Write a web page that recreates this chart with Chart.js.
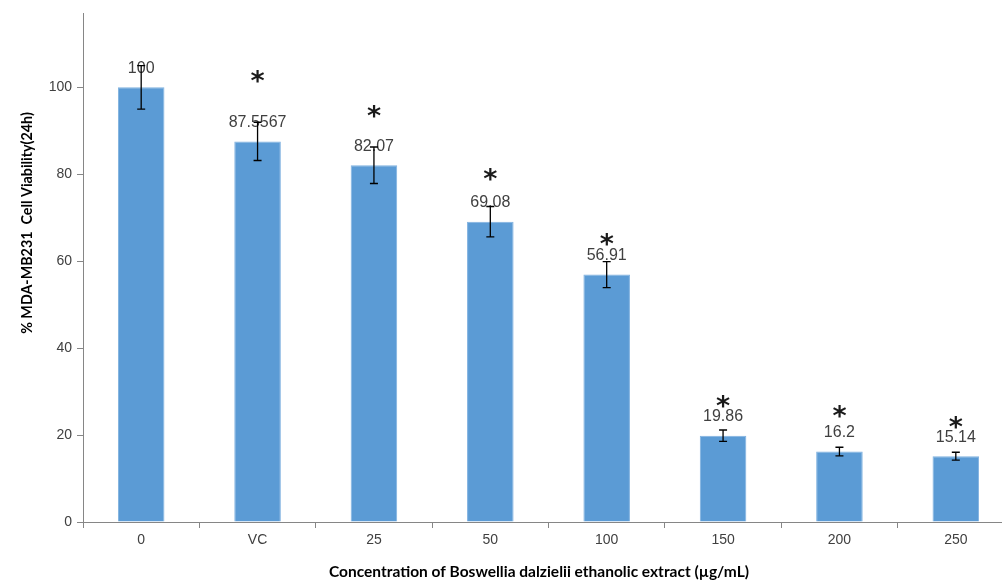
<!DOCTYPE html>
<html>
<head>
<meta charset="utf-8">
<script src="https://cdn.jsdelivr.net/npm/chart.js@4"></script>
<style>
  html, body { margin: 0; padding: 0; background: #fff; overflow: hidden; }
  #wrap { width: 1020px; height: 582px; }
</style>
</head>
<body>
<div id="wrap"><canvas id="chart0"></canvas></div>
<script>
let categories = ["0", "VC", "25", "50", "100", "150", "200", "250"];
let viability = [100, 87.5567, 82.07, 69.08, 56.91, 19.86, 16.2, 15.14];
let errors = [5, 4.4, 4.2, 3.5, 3.0, 1.3, 1.0, 0.9];
// where the significance stars sit (in % units), null = no star
let starLevel = [null, 102.3, 94.3, 79.8, 64.8, 27.6, 25.3, 22.8];
let yTicks = [0, 20, 40, 60, 80, 100];

let xTitle = "Concentration of Boswellia dalzielii ethanolic extract (\u00b5g/mL)";
let yTitle = "% MDA-MB231  Cell Viability(24h)";

let ctx = document.getElementById("chart0").getContext("2d");

// draws value labels, stars, error bars and the axis titles
let extras = {
  id: "extras",
  afterDatasetsDraw(chart) {
    let c = chart.ctx;
    let ys = chart.scales.y;
    let meta = chart.getDatasetMeta(0);
    c.save();
    meta.data.forEach(function(bar, i) {
      let top = ys.getPixelForValue(viability[i]);
      c.font = "16px 'Liberation Sans'";
      c.fillStyle = "#404040";
      c.textAlign = "center";
      c.textBaseline = "middle";
      c.fillText(String(viability[i]), bar.x, top - 19);

      if (starLevel[i] !== null) {
        c.font = "bold 27px 'DejaVu Sans'";
        c.fillStyle = "#1a1a1a";
        c.fillText("*", bar.x, ys.getPixelForValue(starLevel[i]) + 6);
      }

      let hi = ys.getPixelForValue(viability[i] + errors[i]);
      let lo = ys.getPixelForValue(viability[i] - errors[i]);
      c.strokeStyle = "#000";
      c.lineWidth = 1.3;
      c.beginPath();
      c.moveTo(bar.x, hi); c.lineTo(bar.x, lo);
      c.moveTo(bar.x - 4, hi); c.lineTo(bar.x + 4, hi);
      c.moveTo(bar.x - 4, lo); c.lineTo(bar.x + 4, lo);
      c.stroke();
    });

    c.fillStyle = "#000";
    c.font = "bold 15.5px Lato";
    c.textAlign = "center";
    c.textBaseline = "middle";
    c.fillText(xTitle, 539, 572);
    c.font = "bold 14.3px Lato";
    c.translate(27, 223);
    c.rotate(-Math.PI / 2);
    c.fillText(yTitle, 0, 0);
    c.restore();
  }
};

let chart = new Chart(ctx, {
  type: "bar",
  data: {
    labels: categories,
    datasets: [{
      data: viability,
      backgroundColor: "#5B9BD5",
      borderColor: "#7FB1E0",
      borderWidth: 1,
      barPercentage: 0.4,
      categoryPercentage: 1.0
    }]
  },
  options: {
    responsive: true,
    maintainAspectRatio: false,
    animation: false,
    devicePixelRatio: 1,
    layout: { padding: { top: 13, right: 6, left: 0, bottom: 0 } },
    plugins: { legend: { display: false }, tooltip: { enabled: false } },
    scales: {
      x: {
        afterFit: function(s) { s.height = 60; },
        grid: { offset: true, drawOnChartArea: false, tickLength: 6, color: "#868686" },
        border: { color: "#868686" },
        ticks: { color: "#404040", font: { size: 14, family: "Liberation Sans" }, padding: 4 }
      },
      y: {
        min: 0,
        max: 117,
        afterFit: function(s) { s.width = 83; },
        afterBuildTicks: function(s) { s.ticks = yTicks.map(v => ({ value: v })); },
        grid: { drawOnChartArea: false, tickLength: 6, color: "#868686" },
        border: { color: "#868686" },
        ticks: { color: "#404040", font: { size: 14, family: "Liberation Sans" }, padding: 5 }
      }
    }
  },
  plugins: [extras]
});
</script>
</body>
</html>
